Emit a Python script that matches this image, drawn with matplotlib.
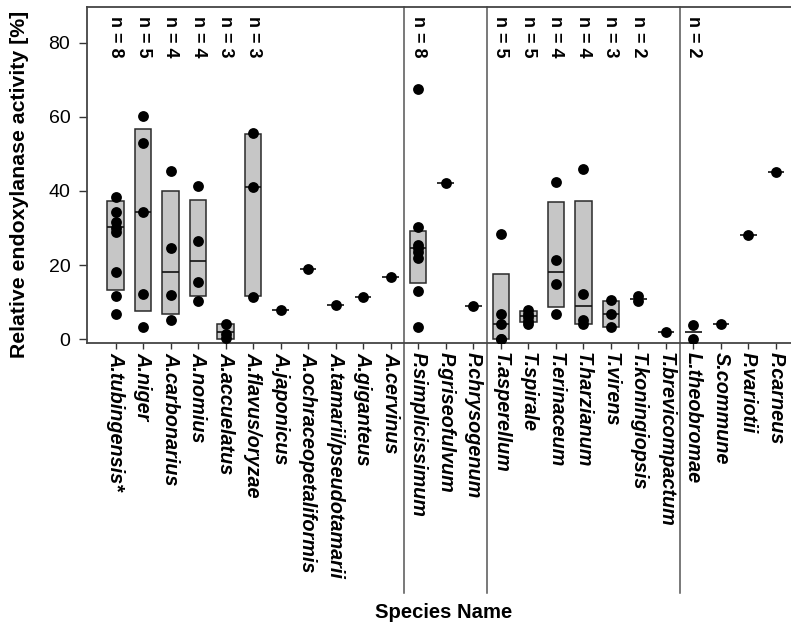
import matplotlib
matplotlib.use("Agg")
import matplotlib.pyplot as plt
import numpy as np

plt.rcParams['font.family'] = ['Liberation Sans', 'DejaVu Sans']

species = ["A.tubingensis*", "A.niger", "A.carbonarius", "A.nomius", "A.accuelatus",
           "A.flavus/oryzae", "A.japonicus", "A.ochraceopetaliformis",
           "A.tamarii/pseudotamarii", "A.giganteus", "A.cervinus",
           "P.simplicissimum", "P.griseofulvum", "P.chrysogenum",
           "T.asperellum", "T.spirale", "T.erinaceum", "T.harzianum", "T.virens",
           "T.koningiopsis", "T.brevicompactum",
           "L.theobromae", "S.commune", "P.variotii", "P.carneus"]

replicates = [
    [38.4, 34.4, 31.7, 29.9, 29.0, 18.0, 11.6, 6.9],
    [60.3, 52.8, 34.4, 12.1, 3.3],
    [45.4, 24.5, 11.9, 5.3],
    [41.3, 26.5, 15.4, 10.3],
    [4.2, 1.5, 0.2],
    [55.5, 41.0, 11.4],
    [8.0],
    [18.8],
    [9.2],
    [11.4],
    [16.7],
    [67.4, 30.3, 25.4, 24.5, 23.5, 21.8, 13.0, 3.3],
    [42.2],
    [9.0],
    [28.3, 6.9, 4.0, 0.0, 0.0],
    [8.0, 6.9, 6.0, 4.9, 4.0],
    [42.4, 21.3, 14.8, 6.7],
    [45.8, 12.3, 5.1, 4.0],
    [10.5, 6.9, 3.3],
    [11.6, 10.3],
    [1.8],
    [3.8, 0.0],
    [4.0],
    [28.0],
    [45.2],
]

box_low = [13.2, 7.6, 6.9, 11.6, 0.1, 11.6, None, None, None, None, None,
           15.2, None, None,
           0.0, 4.7, 8.7, 4.2, 3.3, None, None,
           None, None, None, None]
box_high = [37.2, 56.6, 40.1, 37.5, 4.2, 55.3, None, None, None, None, None,
            29.2, None, None,
            17.7, 7.6, 37.1, 37.3, 10.3, None, None,
            None, None, None, None]
medians = [30.3, 34.4, 18.2, 21.0, 1.8, 41.0, 8.0, 18.8, 9.2, 11.4, 16.7,
           24.5, 42.2, 9.0,
           4.0, 6.2, 18.0, 8.9, 6.9, 10.8, 1.8,
           1.8, 4.0, 28.0, 45.2]
n_labels = ["n = 8", "n = 5", "n = 4", "n = 4", "n = 3", "n = 3", "", "", "", "", "",
            "n = 8", "", "",
            "n = 5", "n = 5", "n = 4", "n = 4", "n = 3", "n = 2", "",
            "n = 2", "", "", ""]
group_breaks = [11.5, 14.5, 21.5]
y_ticks = [0, 20, 40, 60, 80]

W, H = 791, 626
fig = plt.figure(figsize=(W / 100, H / 100), dpi=100)
ax = fig.add_axes([87 / W, 1 - 342.5 / H, 1 - 87 / W, (342.5 - 6.7) / H])

x = np.arange(1, len(species) + 1)
bw = 0.6

for i, xi in enumerate(x):
    lo, hi = box_low[i], box_high[i]
    if lo is not None and hi is not None:
        ax.bar(xi, hi - lo, bottom=lo, width=bw, color='#c6c6c6',
               edgecolor='#2a2a2a', linewidth=1.1, zorder=1)
    ax.hlines(medians[i], xi - bw / 2, xi + bw / 2, color='#111111',
              linewidth=1.2, zorder=2)
    pts = replicates[i]
    ax.plot([xi] * len(pts), pts, 'o', color='black', markersize=7.8,
            markeredgewidth=0, zorder=3)
    if n_labels[i]:
        ax.text(xi, 87.3, n_labels[i], rotation=270, ha='center', va='top',
                fontsize=13, fontweight='bold')

for b in group_breaks:
    ax.axvline(b, ymin=-0.745, ymax=1, color='#555555', linewidth=1.1,
               clip_on=False, zorder=0)

ax.set_xlim(-0.04, 25.55)
ax.set_ylim(-0.9, 89.7)
ax.set_yticks(y_ticks)
ax.set_yticklabels([str(v) for v in y_ticks], fontsize=14)
ax.set_xticks(x)
ax.set_xticklabels(species, rotation=270, fontsize=14.3, fontweight='bold',
                   fontstyle='italic', va='top', ha='center')
ax.tick_params(axis='y', length=6, width=1, pad=6, color='#333333')
ax.tick_params(axis='x', length=4, width=1, pad=3, color='#333333')
for s in ['left', 'bottom', 'top']:
    ax.spines[s].set_color('#444444')
    ax.spines[s].set_linewidth(1.3)
ax.spines['right'].set_visible(False)

fig.text(20 / W, 1 - 184 / H, "Relative endoxylanase activity [%]", rotation=90,
         ha='center', va='center', fontsize=15.3, fontweight='bold')
fig.text(444 / W, 1 - 612 / H, "Species Name", ha='center', va='center',
         fontsize=14.6, fontweight='bold')

fig.savefig("out.png", dpi=100)
